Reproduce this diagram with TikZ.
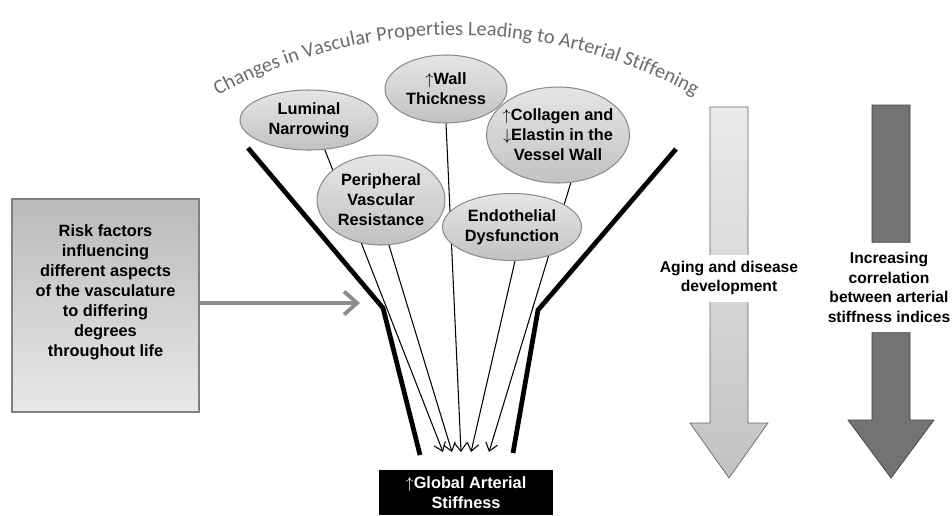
\documentclass[tikz,border=0pt]{standalone}
\usepackage{fontspec}
\setmainfont{Liberation Sans}
\newfontfamily\arcfont{Carlito}
\usetikzlibrary{arrows.meta, shapes.geometric, decorations.text, backgrounds}

\begin{document}
\begin{tikzpicture}[x=0.02cm, y=-0.02cm,
  font=\fontsize{9.3}{11.4}\selectfont\bfseries,
  prop/.style={ellipse, draw=black!45, line width=0.6pt, top color=black!10, bottom color=black!24, inner sep=0pt, align=center},
  riskbox/.style={draw=black!50, line width=1pt, top color=black!27, bottom color=black!9},
  outbox/.style={fill=black, text=white, align=center},
  funnel/.style={line width=2.7pt},
  tipline/.style={line width=0.6pt, -{Straight Barb[length=1.6mm, width=2.4mm]}},
  gapnote/.style={fill=white, inner xsep=1pt, align=center, font=\fontsize{8.9}{11.2}\selectfont\bfseries}]

\useasboundingbox (0,0) rectangle (952,515);

%% ===================== arc title =====================
\path[decorate, decoration={text along path, text align=center,
  text={|\arcfont\mdseries\fontsize{11.6}{11.6}\selectfont\color{black!58}|Changes in Vascular Properties Leading to Arterial Stiffening}}]
  (456,535) ++(-125:500) arc[start angle=-125, end angle=-55, radius=500];

%% ===================== property ellipses =====================
\node[prop, minimum width=2.76cm, minimum height=1.2cm] (lum) at (309,120) {Luminal\\Narrowing};
\node[prop, minimum width=2.44cm, minimum height=1.36cm] (wall) at (446,89) {$\uparrow$Wall\\Thickness};
\node[prop, minimum width=2.86cm, minimum height=1.92cm, inner xsep=-0.2cm] (col) at (558,135)
  {$\uparrow$Collagen and\\$\downarrow$Elastin in the\\Vessel Wall};
\node[prop, minimum width=2.56cm, minimum height=1.8cm] (per) at (381,200) {Peripheral\\Vascular\\Resistance};
\node[prop, minimum width=2.78cm, minimum height=1.34cm] (endo) at (512,227) {Endothelial\\Dysfunction};

%% thin lines run behind the ellipses
\begin{scope}[on background layer]
\foreach \src/\x [count=\i] in {lum.-62/443, per.-80/452, wall.south/461, endo.-85/471, col.-75/489}{
  \coordinate (tip\i) at (\x,452);
  \draw[tipline] (\src) -- (tip\i);}
\end{scope}

%% ===================== funnel walls =====================
\coordinate (fl0) at (248,148);
\coordinate (fl1) at (383,308);
\coordinate (fl2) at (420,455);
\coordinate (fr0) at (676,149);
\coordinate (fr1) at (538,310);
\coordinate (fr2) at (513,453);
\draw[funnel] (fl0) -- (fl1) -- (fl2);
\draw[funnel] (fr0) -- (fr1) -- (fr2);

%% ===================== risk factors =====================
\node[riskbox, minimum width=3.74cm, minimum height=4.26cm] (risk) at (105.5,305.5) {};
\node[align=center] (risktext) at (105.5,292)
  {Risk factors\\influencing\\different aspects\\of the vasculature\\to differing\\degrees\\throughout life};
\coordinate (entry) at (360,303);
\draw[line width=2.2pt, black!45, -{Straight Barb[length=2.6mm, width=4.6mm]}] (risk.east |- entry) -- (entry);

%% ===================== outcome =====================
\node[outbox, minimum width=3.48cm, minimum height=0.9cm] (glob) at (466,492.5) {$\uparrow$Global Arterial\\ Stiffness};

%% ===================== right-hand arrows =====================
\draw[draw=black!60, top color=black!8, bottom color=black!24]
  (710,107) -- (748,107) -- (748,423) -- (768,423) -- (729,478) -- (690,423) -- (710,423) -- cycle;
\node[gapnote, minimum height=0.94cm] (aging) at (729,278) {Aging and disease\\development};
\draw[draw=black!75, fill=black!55]
  (872,105) -- (910,105) -- (910,420) -- (934,420) -- (891,478) -- (848,420) -- (872,420) -- cycle;
\node[gapnote, minimum height=1.78cm] (corr) at (889,287.5)
  {Increasing\\correlation\\between arterial\\stiffness indices};

\end{tikzpicture}
\end{document}
